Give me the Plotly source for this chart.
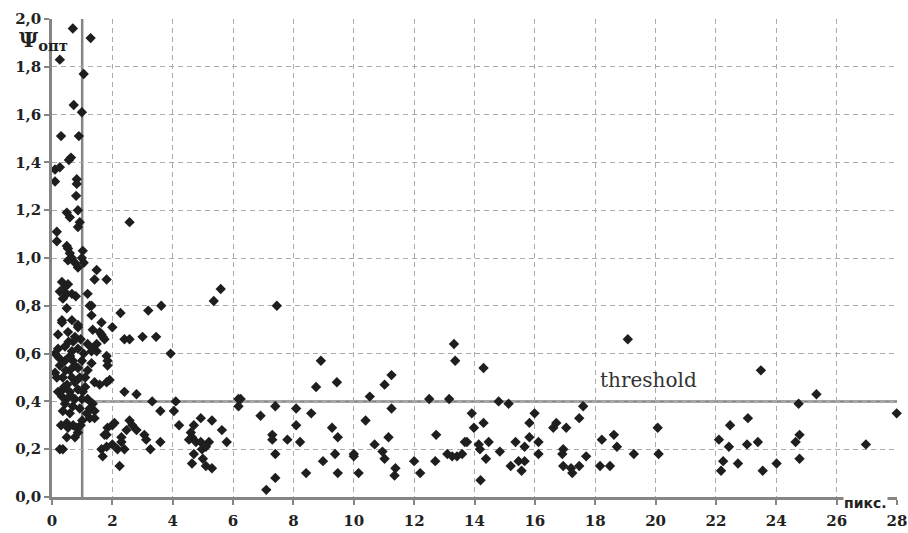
import plotly.graph_objects as go

# ---- data ----
x_upper = [0.69, 1.28, 0.26, 1.05, 0.72, 0.99, 0.30, 0.89, 0.10, 0.26, 0.56, 0.63, 0.10, 0.82, 0.82, 0.80,
           0.86, 0.49, 0.59, 0.86, 0.92, 0.16, 0.16, 0.49, 0.53, 0.59, 1.02, 0.53, 0.66, 0.76, 0.86, 1.05, 0.99,
           0.33, 0.43, 0.53, 0.26, 0.49, 0.66, 0.79, 0.36, 0.49, 0.33, 0.66, 0.86, 1.31, 1.25, 1.31, 1.18,
           1.48, 1.41, 1.81, 2.57, 2.27, 1.64, 2.00, 3.19, 3.62, 2.40, 2.57, 3.00, 3.45, 3.93, 5.36, 5.59, 7.45]
y_upper = [1.96, 1.92, 1.83, 1.77, 1.64, 1.61, 1.51, 1.51, 1.37, 1.38, 1.41, 1.42, 1.32, 1.33, 1.31, 1.26,
           1.20, 1.19, 1.17, 1.13, 1.15, 1.11, 1.07, 1.05, 1.04, 1.02, 1.03, 0.99, 1.00, 0.98, 0.96, 0.98, 1.00,
           0.90, 0.88, 0.89, 0.86, 0.85, 0.85, 0.84, 0.83, 0.79, 0.74, 0.74, 0.72, 0.76, 0.80, 0.80, 0.85,
           0.95, 0.91, 0.91, 1.15, 0.77, 0.73, 0.71, 0.78, 0.80, 0.66, 0.66, 0.67, 0.67, 0.60, 0.82, 0.87, 0.80]

x_cluster = [0.33, 0.86, 0.20, 0.53, 0.76, 1.35, 1.64, 1.74, 1.58, 1.68, 1.18, 1.48, 1.35, 1.48, 1.31, 0.43,
             0.66, 0.86, 0.43, 0.69, 0.99, 0.26, 0.59, 0.86, 1.31, 1.81, 1.84, 1.84, 1.18, 0.16, 0.36, 0.66,
             0.92, 0.76, 1.41, 1.58, 1.81, 1.91, 0.36, 0.59, 0.86, 1.02, 0.33, 0.49, 0.76, 0.99, 1.18, 1.35,
             0.43, 0.69, 0.92, 1.25, 1.41, 0.36, 0.59, 1.25, 1.41, 0.49, 0.53, 0.82, 0.86, 0.49, 0.76, 0.26,
             0.36, 0.10, 0.20, 0.10, 0.55, 0.70, 0.95, 0.25, 0.60, 1.05, 0.45, 0.75, 1.10, 0.50, 0.20, 1.10,
             0.65, 0.40, 1.15, 1.00, 0.95, 0.30, 0.70]
y_cluster = [0.73, 0.71, 0.68, 0.69, 0.67, 0.70, 0.68, 0.66, 0.69, 0.67, 0.64, 0.64, 0.62, 0.61, 0.61, 0.63,
             0.61, 0.62, 0.57, 0.57, 0.57, 0.55, 0.53, 0.54, 0.56, 0.59, 0.57, 0.55, 0.53, 0.50, 0.50, 0.50,
             0.50, 0.48, 0.48, 0.47, 0.48, 0.49, 0.45, 0.44, 0.45, 0.44, 0.42, 0.41, 0.41, 0.41, 0.41, 0.39,
             0.39, 0.38, 0.37, 0.37, 0.36, 0.36, 0.35, 0.33, 0.33, 0.31, 0.29, 0.29, 0.27, 0.25, 0.25, 0.20,
             0.20, 0.60, 0.62, 0.52, 0.65, 0.65, 0.66, 0.58, 0.59, 0.60, 0.53, 0.55, 0.50, 0.47, 0.44, 0.46,
             0.42, 0.46, 0.35, 0.32, 0.30, 0.30, 0.30]

x_low = [1.84, 2.00, 2.07, 1.74, 1.81, 2.30, 2.47, 2.57, 2.66, 2.80, 1.81, 1.68, 1.64, 2.00, 2.17, 2.24,
         2.40, 2.30, 2.40, 2.80, 3.06, 3.12, 3.26, 3.32, 3.59, 3.59, 4.10, 4.04, 4.21,
         4.93, 5.30, 4.70, 5.63, 4.60, 4.64, 4.54, 4.77, 4.93, 5.20, 5.10, 4.97, 5.79, 4.70, 5.00, 4.64, 5.10, 5.30,
         6.18, 6.25, 6.18, 6.91, 7.40, 7.30, 7.30, 7.40, 7.40, 7.10, 7.80, 8.09, 8.09, 8.22, 8.42, 8.59,
         8.91, 8.75, 9.44, 10.53, 11.02, 11.25, 13.32, 13.36, 12.50, 13.16, 11.25, 9.28, 10.39, 9.47, 10.69,
         11.15, 9.38, 8.98, 10.00, 10.00, 10.95, 11.02, 12.00, 12.73, 12.70, 13.10, 13.26, 13.42, 13.59, 13.68,
         9.47, 10.16, 11.38, 11.35, 12.20]
y_low = [0.29, 0.30, 0.31, 0.26, 0.26, 0.25, 0.28, 0.32, 0.30, 0.28, 0.21, 0.17, 0.20, 0.22, 0.20, 0.13,
         0.20, 0.23, 0.44, 0.43, 0.26, 0.24, 0.20, 0.40, 0.36, 0.23, 0.40, 0.36, 0.30,
         0.33, 0.32, 0.30, 0.28, 0.27, 0.25, 0.24, 0.23, 0.23, 0.23, 0.21, 0.20, 0.23, 0.18, 0.16, 0.14, 0.13, 0.12,
         0.41, 0.41, 0.38, 0.34, 0.38, 0.26, 0.24, 0.18, 0.08, 0.03, 0.24, 0.37, 0.30, 0.23, 0.10, 0.35,
         0.57, 0.46, 0.48, 0.42, 0.47, 0.51, 0.64, 0.57, 0.41, 0.41, 0.37, 0.29, 0.32, 0.25, 0.22,
         0.25, 0.18, 0.15, 0.18, 0.17, 0.19, 0.16, 0.15, 0.26, 0.15, 0.18, 0.17, 0.17, 0.18, 0.23,
         0.10, 0.10, 0.12, 0.09, 0.10]

x_right = [14.30, 14.80, 15.13, 15.99, 13.91, 14.30, 13.98, 15.82, 13.75, 14.14, 14.18, 14.47, 15.36, 15.66,
           15.82, 16.12, 16.12, 14.84, 14.38, 15.20, 15.46, 15.66, 15.56, 14.20, 17.60, 17.47, 16.71, 16.61,
           17.04, 16.94, 16.91, 17.70, 18.22, 18.62, 18.72, 19.28, 16.94, 17.20, 17.24, 17.47, 18.16, 18.49,
           19.08, 20.07, 20.10, 22.10, 22.47, 22.43, 22.24, 22.17, 22.73, 23.06, 23.03, 23.39, 23.49, 23.55,
           24.01, 24.64, 24.77, 24.77, 24.74, 25.33, 26.97, 27.99]
y_right = [0.54, 0.40, 0.39, 0.35, 0.35, 0.31, 0.29, 0.31, 0.23, 0.22, 0.20, 0.23, 0.23, 0.21,
           0.25, 0.23, 0.18, 0.19, 0.16, 0.13, 0.15, 0.15, 0.11, 0.07, 0.38, 0.33, 0.31, 0.29,
           0.29, 0.20, 0.18, 0.17, 0.24, 0.26, 0.21, 0.18, 0.13, 0.12, 0.10, 0.13, 0.13, 0.13,
           0.66, 0.29, 0.18, 0.24, 0.30, 0.21, 0.15, 0.11, 0.14, 0.33, 0.22, 0.23, 0.53, 0.11,
           0.14, 0.23, 0.26, 0.16, 0.39, 0.43, 0.22, 0.35]

x_all = x_upper + x_cluster + x_low + x_right
y_all = y_upper + y_cluster + y_low + y_right

threshold = 0.4
vline_x = 1

x_tickvals = list(range(0, 29, 2))
x_ticktext = ["<b>%d</b>" % v for v in x_tickvals]
y_tickvals = [0.0, 0.2, 0.4, 0.6, 0.8, 1.0, 1.2, 1.4, 1.6, 1.8, 2.0]
y_labels = ["0,0", "0,2", "0,4", "0,6", "0,8", "1,0", "1,2", "1,4", "1,6", "1,8", "2,0"]
y_ticktext = ["<b>%s</b>" % t for t in y_labels]

FONT = "DejaVu Serif"
AXIS_COL = "#858585"
GRID_COL = "#ababab"

fig = go.Figure()
fig.add_trace(go.Scatter(
    x=x_all, y=y_all, mode="markers",
    marker=dict(symbol="diamond", size=8, color="#1e1e1e"),
    cliponaxis=False, showlegend=False, hoverinfo="x+y"))

fig.add_shape(type="line", x0=vline_x, x1=vline_x, y0=0, y1=2.0,
              line=dict(color=AXIS_COL, width=2.5), layer="below")
fig.add_shape(type="line", x0=vline_x, x1=28, y0=threshold, y1=threshold,
              line=dict(color=AXIS_COL, width=2.5), layer="below")

fig.add_annotation(text="threshold", x=18.1, y=0.49, xref="x", yref="y",
                   xanchor="left", yanchor="middle", showarrow=False,
                   font=dict(family=FONT, size=20, color="#333333"))
fig.add_annotation(text="<b>Ψ</b><sub><b>опт</b></sub>", x=-0.042, y=0.955, xref="paper", yref="paper",
                   xanchor="left", yanchor="middle", showarrow=False,
                   font=dict(family=FONT, size=21, color="#222222"))
fig.add_annotation(text="<b>пикс.</b>", x=26.2, y=-0.013, xref="x", yref="paper",
                   xanchor="left", yanchor="middle", showarrow=False, bgcolor="white",
                   borderpad=0,
                   font=dict(family="DejaVu Sans", size=14, color="#222222"))

fig.update_layout(
    width=908, height=533,
    margin=dict(l=52, r=11, t=19, b=36, autoexpand=False),
    paper_bgcolor="white", plot_bgcolor="white",
    font=dict(family=FONT, size=15, color="#222222"),
)
common = dict(showgrid=True, gridcolor=GRID_COL, griddash="5px,4px", gridwidth=1,
              zeroline=False, showline=True, linecolor=AXIS_COL, linewidth=2.5,
              ticks="outside", ticklen=5, tickcolor=AXIS_COL, tickwidth=1.5,
              automargin=False, ticklabeloverflow="allow",
              tickfont=dict(family=FONT, size=15, color="#222222"))
fig.update_xaxes(range=[0, 28], tickvals=x_tickvals, ticktext=x_ticktext,
                 ticklabelstandoff=3, **common)
fig.update_yaxes(range=[0, 2.0], tickvals=y_tickvals, ticktext=y_ticktext, **common)

fig.write_html("out.html", config={"displayModeBar": False},
               post_script="document.body.style.margin='0';document.body.style.overflow='hidden';")
